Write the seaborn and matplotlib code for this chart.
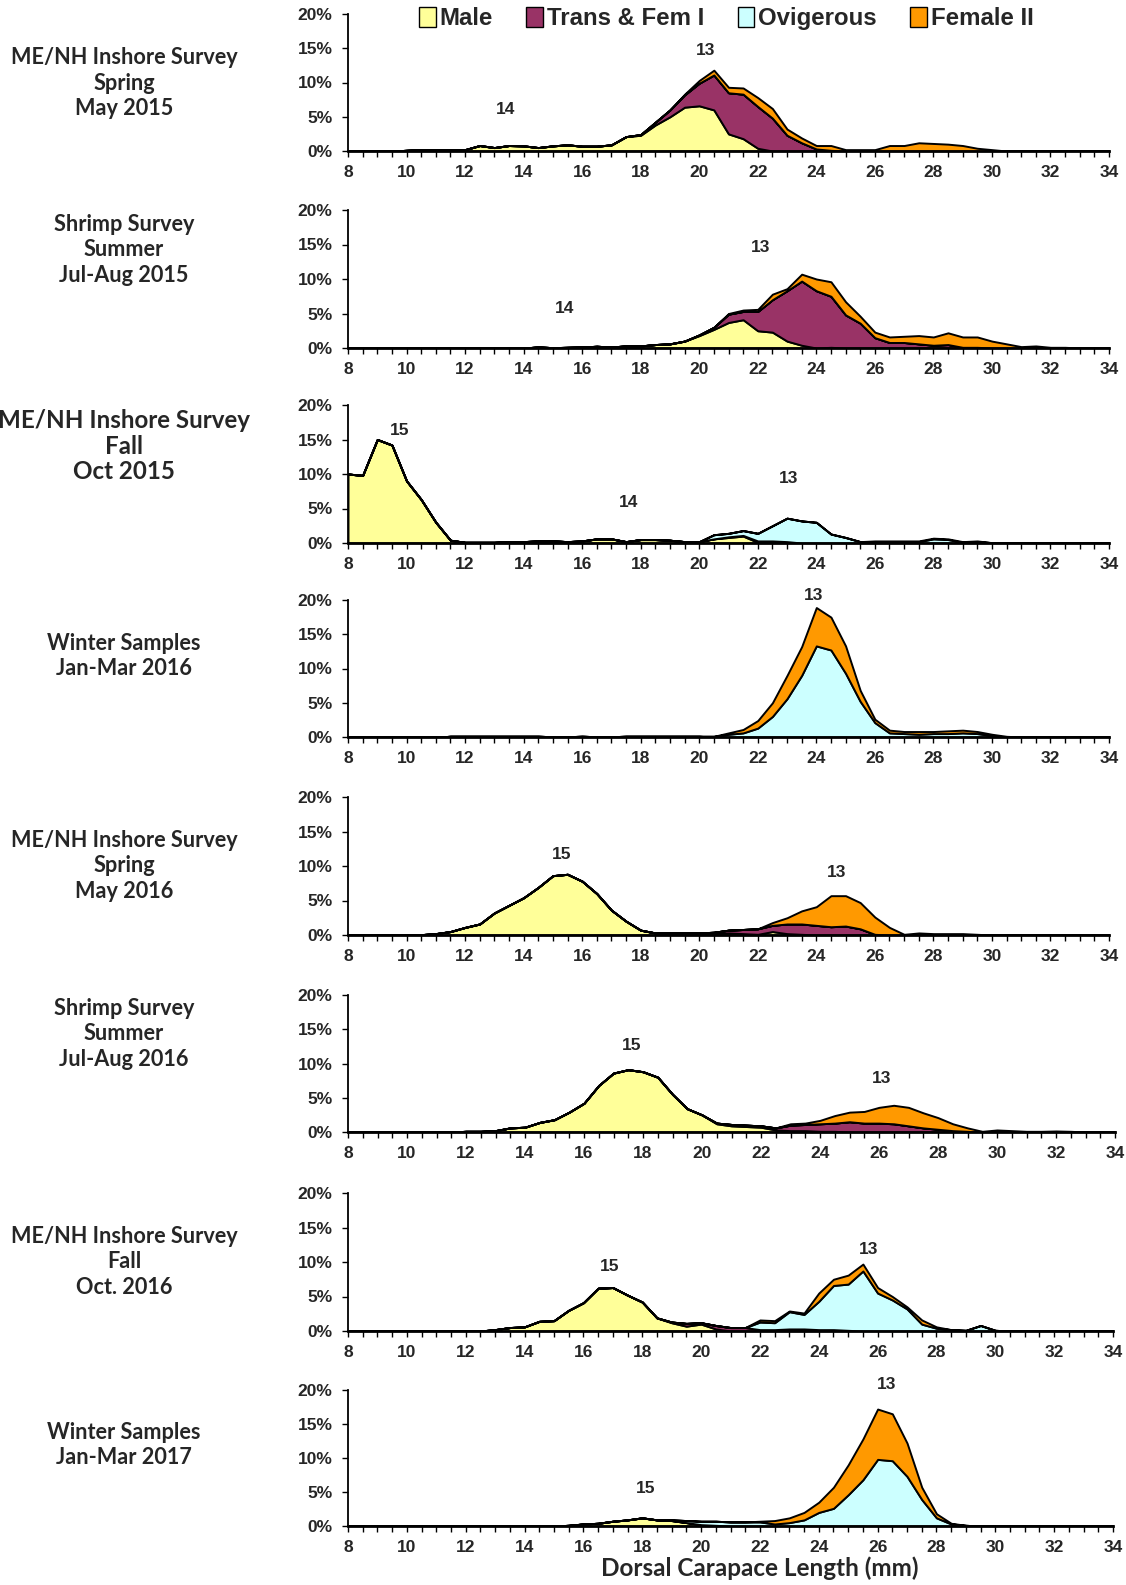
"""Northern shrimp length-frequency panels, 2015-2017"""
import numpy as np
import matplotlib.pyplot as plt
import seaborn as sns
from matplotlib.patches import Patch

# carapace length bins (mm)
lengths = np.arange(8, 34.5, 0.5)
categories = ['Male', 'Trans & Fem I', 'Ovigerous', 'Female II']
colors = ['#FFFF99', '#993366', '#CCFFFF', '#FF9900']


def pad(start, values):
    """put values that begin at `start` mm on the full 8-34 mm grid"""
    out = np.zeros(len(lengths))
    i = int(round((start - 8) / 0.5))
    out[i:i + len(values)] = values
    return out


# ME/NH inshore spring 2015
male_spr15 = pad(10, [0.1, 0.2, 0.2, 0.2, 0.2, 0.8, 0.5, 0.8, 0.75, 0.5,
                      0.75, 0.9, 0.7, 0.7, 0.9, 2.1, 2.3, 3.8, 5.0, 6.4,
                      6.6, 6.0, 2.5, 1.8, 0.4])
trans_spr15 = pad(18, [0.1, 0.4, 1.0, 1.8, 3.3, 5.1, 6.0, 6.5, 6.1, 4.8,
                       2.3, 1.2, 0.3, 0.1])
ovig_spr15 = pad(8, [])
fem2_spr15 = pad(19.5, [0.1, 0.4, 0.7, 0.8, 0.9, 1.3, 1.4, 0.9, 0.7, 0.5,
                        0.7, 0.2, 0.2, 0.2, 0.8, 0.8, 1.2, 1.1, 1.0, 0.8,
                        0.4, 0.2])

# shrimp survey summer 2015
male_sum15 = pad(14.5, [0.15, 0.05, 0.1, 0.15, 0.25, 0.15, 0.3, 0.3, 0.5,
                        0.6, 1.0, 1.8, 2.7, 3.7, 4.1, 2.5, 2.3, 1.0, 0.4,
                        0.0, 0.1])
trans_sum15 = pad(20, [0.1, 0.3, 1.2, 1.2, 2.8, 4.7, 7.3, 9.3, 8.3, 7.4,
                       4.8, 3.6, 1.5, 0.8, 0.8, 0.6, 0.4, 0.5, 0.1, 0.1])
ovig_sum15 = pad(8, [])
fem2_sum15 = pad(21, [0.1, 0.2, 0.3, 0.8, 0.3, 1.0, 1.7, 2.1, 1.9, 1.0,
                      0.8, 0.8, 0.9, 1.2, 1.2, 1.7, 1.5, 1.5, 1.0, 0.6,
                      0.2, 0.3, 0.1, 0.1])

# ME/NH inshore fall 2015
male_fal15 = pad(8, [10.0, 9.8, 15.0, 14.2, 9.0, 6.3, 3.0, 0.4, 0.1, 0.1,
                     0.1, 0.2, 0.2, 0.3, 0.3, 0.2, 0.3, 0.6, 0.6, 0.2,
                     0.5, 0.5, 0.4, 0.2, 0.2, 0.6, 0.8, 1.0, 0.1, 0.1,
                     0.1])
trans_fal15 = pad(21, [0.1, 0.1, 0.2, 0.2, 0.1])
ovig_fal15 = pad(20.5, [0.6, 0.5, 0.7, 1.1, 2.2, 3.4, 3.2, 3.0, 1.3, 0.8,
                        0.2, 0.2, 0.2, 0.2, 0.2, 0.6, 0.5, 0.1, 0.2, 0.05])
fem2_fal15 = pad(26, [0.1, 0.1, 0.1, 0.1, 0.1, 0.1, 0.1, 0.1])

# winter samples 2016
male_win16 = pad(11.5, [0.1, 0.1, 0.1, 0.1, 0.1, 0.1, 0.1, 0.05, 0.05, 0.1,
                        0.05, 0.05, 0.1, 0.1, 0.1, 0.1, 0.1, 0.1])
trans_win16 = pad(8, [])
ovig_win16 = pad(20.5, [0.1, 0.4, 0.6, 1.3, 3.0, 5.6, 9.0, 13.3, 12.7, 9.3,
                        5.2, 2.1, 0.6, 0.5, 0.4, 0.5, 0.5, 0.6, 0.5, 0.2])
fem2_win16 = pad(21, [0.2, 0.5, 1.1, 2.0, 3.4, 4.2, 5.6, 4.8, 4.0, 1.6,
                      0.5, 0.4, 0.3, 0.4, 0.3, 0.4, 0.4, 0.3, 0.2, 0.1])

# ME/NH inshore spring 2016
male_spr16 = pad(10.5, [0.05, 0.2, 0.5, 1.1, 1.6, 3.2, 4.3, 5.4, 6.9, 8.6,
                        8.8, 7.8, 6.0, 3.6, 2.0, 0.7, 0.3, 0.3, 0.3, 0.3,
                        0.3, 0.3, 0.2, 0.1, 0.5, 0.2, 0.1])
trans_spr16 = pad(20.5, [0.1, 0.4, 0.6, 0.8, 0.9, 1.4, 1.5, 1.4, 1.2, 1.3,
                         0.9, 0.1])
ovig_spr16 = pad(8, [])
fem2_spr16 = pad(22.5, [0.4, 0.9, 1.9, 2.7, 4.5, 4.4, 3.8, 2.5, 1.1, 0.1,
                        0.3, 0.2, 0.2, 0.2, 0.1])

# shrimp survey summer 2016
male_sum16 = pad(10, [0.05, 0.0, 0.0, 0.0, 0.1, 0.1, 0.2, 0.6, 0.7, 1.4,
                      1.8, 2.9, 4.2, 6.8, 8.6, 9.1, 8.8, 8.0, 5.5, 3.4,
                      2.5, 1.2, 0.9, 0.8, 0.7, 0.3, 0.2, 0.2, 0.1, 0.1])
trans_sum16 = pad(20.5, [0.1, 0.2, 0.2, 0.2, 0.3, 0.8, 0.9, 1.1, 1.2, 1.5,
                         1.3, 1.3, 1.2, 0.9, 0.6, 0.4, 0.2, 0.1])
ovig_sum16 = pad(8, [])
fem2_sum16 = pad(23, [0.2, 0.2, 0.5, 1.1, 1.4, 1.7, 2.3, 2.7, 2.7, 2.2,
                      1.7, 1.0, 0.5, 0.1, 0.3, 0.2, 0.1, 0.1, 0.15, 0.1])

# ME/NH inshore fall 2016
male_fal16 = pad(13, [0.2, 0.5, 0.6, 1.4, 1.5, 3.0, 4.1, 6.2, 6.3, 5.2,
                      4.2, 1.9, 1.2, 0.7, 1.0, 0.3])
trans_fal16 = pad(19, [0.1, 0.4, 0.2, 0.5, 0.5, 0.5, 0.2, 0.2, 0.3, 0.3,
                       0.2, 0.2, 0.1])
ovig_fal16 = pad(22, [1.1, 1.0, 2.5, 2.1, 4.1, 6.4, 6.7, 8.7, 5.5, 4.5,
                      3.2, 1.0, 0.4, 0.2, 0.1, 0.8, 0.1])
fem2_fal16 = pad(22, [0.3, 0.3, 0.1, 0.2, 1.2, 0.9, 1.3, 1.0, 0.8, 0.5,
                      0.3, 0.6, 0.2])

# winter samples 2017
male_win17 = pad(15.5, [0.1, 0.3, 0.4, 0.7, 0.9, 1.2, 0.9, 0.8, 0.5, 0.2,
                        0.1])
trans_win17 = pad(8, [])
ovig_win17 = pad(19, [0.1, 0.3, 0.5, 0.6, 0.6, 0.6, 0.6, 0.3, 0.5, 0.9,
                      2.0, 2.6, 4.6, 6.8, 9.8, 9.6, 7.3, 3.9, 1.2, 0.3,
                      0.1])
fem2_win17 = pad(22, [0.1, 0.5, 0.7, 1.1, 1.5, 3.1, 4.4, 6.0, 7.4, 6.9,
                      4.9, 1.8, 0.6, 0.1])

survey_labels = [
    'ME/NH Inshore Survey\nSpring\nMay 2015',
    'Shrimp Survey\nSummer\nJul-Aug 2015',
    'ME/NH Inshore Survey\nFall\nOct 2015',
    'Winter Samples\nJan-Mar 2016',
    'ME/NH Inshore Survey\nSpring\nMay 2016',
    'Shrimp Survey\nSummer\nJul-Aug 2016',
    'ME/NH Inshore Survey\nFall\nOct. 2016',
    'Winter Samples\nJan-Mar 2017',
]
panel_series = [
    [male_spr15, trans_spr15, ovig_spr15, fem2_spr15],
    [male_sum15, trans_sum15, ovig_sum15, fem2_sum15],
    [male_fal15, trans_fal15, ovig_fal15, fem2_fal15],
    [male_win16, trans_win16, ovig_win16, fem2_win16],
    [male_spr16, trans_spr16, ovig_spr16, fem2_spr16],
    [male_sum16, trans_sum16, ovig_sum16, fem2_sum16],
    [male_fal16, trans_fal16, ovig_fal16, fem2_fal16],
    [male_win17, trans_win17, ovig_win17, fem2_win17],
]
# year-class labels: (text, length mm, percent)
year_classes = [
    [('13', 20.2, 14.6), ('14', 13.4, 6.0)],
    [('13', 22.1, 14.5), ('14', 15.4, 5.7)],
    [('15', 9.75, 16.3), ('14', 17.6, 5.8), ('13', 23.05, 9.4)],
    [('13', 23.9, 20.6)],
    [('15', 15.3, 11.6), ('13', 24.7, 9.0)],
    [('15', 17.6, 12.7), ('13', 26.1, 7.8)],
    [('15', 16.9, 9.4), ('13', 25.7, 11.8)],
    [('15', 18.1, 5.5), ('13', 26.3, 20.8)],
]

# layout in pixels of the 1126x1585 figure
W, H = 1126, 1585
panel_top = [14, 210, 405, 600, 797, 995, 1193, 1390]
panel_bot = [151, 348, 543, 737, 935, 1132, 1331, 1526]
panel_right = [1109, 1109, 1109, 1109, 1109, 1115, 1113, 1113]
label_y = [83, 250, 446, 656, 866, 1034, 1262, 1445]

sns.set_theme(style='white')
plt.rcParams['font.family'] = ['Liberation Sans', 'DejaVu Sans']
narrow = ['Liberation Sans Narrow', 'Liberation Sans']
side_font = ['Lato', 'DejaVu Sans']

fig = plt.figure(figsize=(W / 100, H / 100), dpi=100)

for k, series in enumerate(panel_series):
    ax = fig.add_axes([348 / W, 1 - panel_bot[k] / H,
                       (panel_right[k] - 348) / W,
                       (panel_bot[k] - panel_top[k]) / H])
    ax.stackplot(lengths, *series, colors=colors, edgecolor='black',
                 linewidth=1.4)
    ax.set_xlim(8, 34)
    ax.set_ylim(0, 20)
    ax.set_xticks(np.arange(8, 35, 2))
    ax.set_xticks(np.arange(8, 34.01, 0.5), minor=True)
    ax.set_yticks([0, 5, 10, 15, 20])
    ax.set_yticklabels([f'{v}%' for v in [0, 5, 10, 15, 20]])
    ax.tick_params(axis='both', which='both', direction='out', length=4,
                   width=1.0, color='black', labelsize=12.5)
    ax.tick_params(axis='x', which='both', bottom=True, pad=6)
    ax.tick_params(axis='y', left=True, pad=7)
    for lab in ax.get_xticklabels() + ax.get_yticklabels():
        lab.set_fontweight('bold')
    sns.despine(ax=ax)
    ax.spines['bottom'].set_linewidth(2.0)
    ax.spines['left'].set_linewidth(1.3)
    ax.spines['bottom'].set_color('black')
    ax.spines['left'].set_color('black')
    ax.set_facecolor('white')
    ax.grid(False)

    for txt, xv, yv in year_classes[k]:
        ax.text(xv, yv, txt, ha='center', va='center', fontsize=12.5,
                fontweight='bold', family=narrow, clip_on=False)

    if k == 2:
        size, spacing = 17.4, 1.13
    else:
        size, spacing = 15.6, 1.25
    fig.text(124 / W, 1 - label_y[k] / H, survey_labels[k], ha='center',
             va='center', fontsize=size, fontweight='bold', family=side_font,
             linespacing=spacing)

    if k == 0:
        handles = [Patch(facecolor=c, edgecolor='black', linewidth=1.0)
                   for c in colors]
        ax.legend(handles, categories, loc='center',
                  bbox_to_anchor=(0.497, 0.965), ncol=4, frameon=False,
                  handlelength=0.7, handleheight=0.9, handletextpad=0.15,
                  columnspacing=1.4,
                  prop={'family': narrow, 'weight': 'bold', 'size': 17.3})

fig.text(760 / W, 1 - 1568 / H, 'Dorsal Carapace Length (mm)', ha='center',
         va='center', fontsize=17.5, fontweight='bold', family=side_font)

fig.savefig('out.png', dpi=100, facecolor='white')
